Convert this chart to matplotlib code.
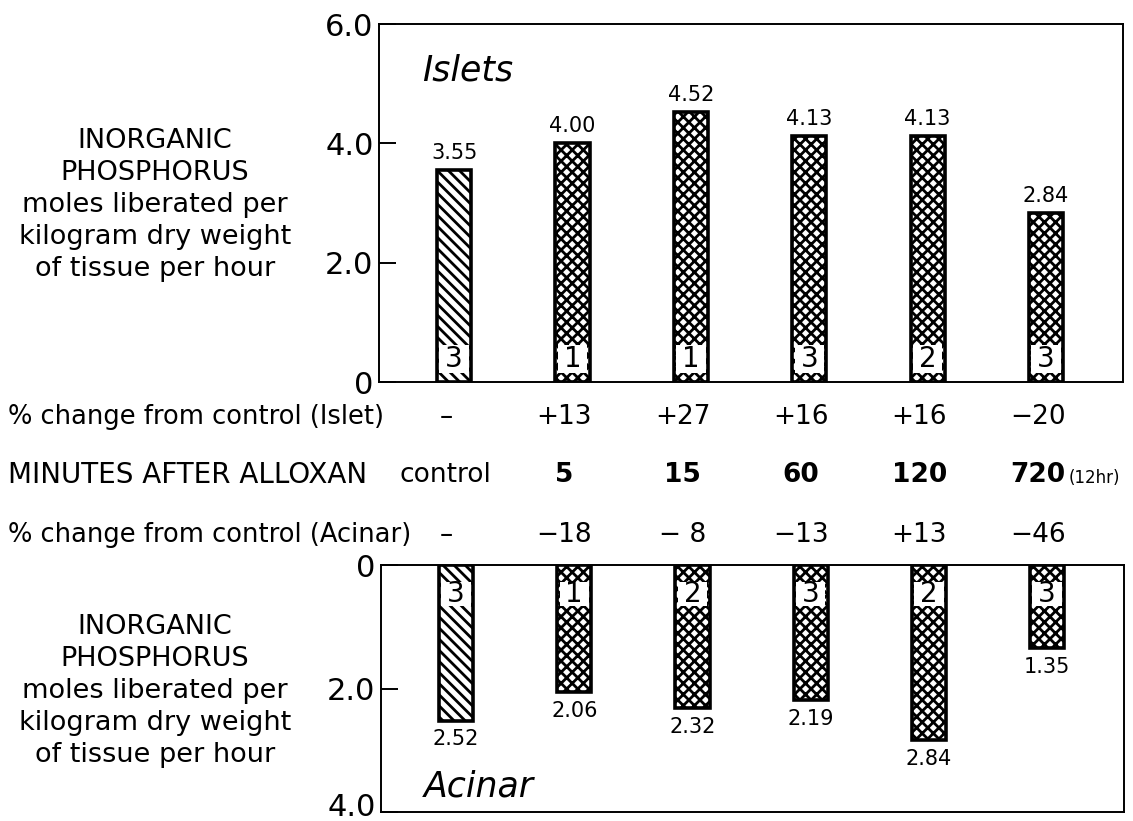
import matplotlib
matplotlib.use("Agg")
import matplotlib.pyplot as plt
import matplotlib.transforms as mtransforms
import numpy as np

plt.rcParams["font.family"] = ["DejaVu Sans"]
plt.rcParams["hatch.linewidth"] = 2.0

# Data
minutes = ["control", "5", "15", "60", "120", "720"]
islet_values = [3.55, 4.00, 4.52, 4.13, 4.13, 2.84]
acinar_values = [2.52, 2.06, 2.32, 2.19, 2.84, 1.35]
islet_n = [3, 1, 1, 3, 2, 3]
acinar_n = [3, 1, 2, 3, 2, 3]
islet_pct = ["–", "+13", "+27", "+16", "+16", "−20"]
acinar_pct = ["–", "−18", "− 8", "−13", "+13", "−46"]

ylabel_text = ("INORGANIC\nPHOSPHORUS\nmoles liberated per\n"
               "kilogram dry weight\nof tissue per hour")

W, H = 1133, 821
fig = plt.figure(figsize=(W / 100, H / 100), dpi=100)


def fy(py):
    # pixel row (from top) -> figure fraction
    return 1 - py / H


ax_top = fig.add_axes([379 / W, fy(382), 744 / W, fy(24) - fy(382)])
ax_bot = fig.add_axes([381 / W, fy(812), 743 / W, fy(565) - fy(812)])

x = np.arange(len(minutes))
bar_w = 0.29


def draw_bars(ax, values, counts, box_lo, box_hi, down):
    bars = ax.bar(x, values, width=bar_w, facecolor="white",
                  edgecolor="black", linewidth=2.6, zorder=2)
    for i, p in enumerate(bars):
        p.set_hatch("\\\\\\" if i == 0 else "xxx")
    ax.bar(x, box_hi - box_lo, bottom=box_lo, width=bar_w * 0.86,
           color="white", linewidth=0, zorder=3)
    for xi, n in zip(x, counts):
        ax.text(xi, (box_lo + box_hi) / 2, str(n), ha="center",
                va="center", fontsize=20, zorder=4)
    for xi, v in zip(x, values):
        if down:
            ax.annotate(f"{v:.2f}", (xi, v), xytext=(0, -6),
                        textcoords="offset points", ha="center", va="top",
                        fontsize=15)
        else:
            ax.annotate(f"{v:.2f}", (xi, v), xytext=(0, 5),
                        textcoords="offset points", ha="center",
                        va="bottom", fontsize=15)


draw_bars(ax_top, islet_values, islet_n, 0.15, 0.62, False)
draw_bars(ax_bot, acinar_values, acinar_n, 0.28, 0.66, True)

for ax in (ax_top, ax_bot):
    ax.set_xlim(-0.635, 5.65)
    ax.set_xticks([])
    for s in ax.spines.values():
        s.set_linewidth(1.4)
    ax.tick_params(axis="y", direction="in", length=12, width=1.4,
                   labelsize=22, pad=4)

ax_top.set_ylim(0, 6)
ax_top.set_yticks([0, 2, 4, 6], ["0", "2.0", "4.0", "6.0"])
ax_bot.set_ylim(4, 0)
ax_bot.set_yticks([0, 2, 4], ["0", "2.0", "4.0"])
# keep the bottom "4.0" inside the picture
lab = ax_bot.get_yticklabels()[-1]
lab.set_transform(lab.get_transform() + mtransforms.ScaledTranslation(
    0, 7 / 100, fig.dpi_scale_trans))

ax_top.text(0.058, 0.87, "Islets", transform=ax_top.transAxes,
            fontsize=25, style="italic", va="center", ha="left")
ax_bot.text(0.057, 0.105, "Acinar", transform=ax_bot.transAxes,
            fontsize=25, style="italic", va="center", ha="left")

# left-hand axis descriptions
fig.text(155 / W, fy(205), ylabel_text, ha="center", va="center",
         multialignment="center", fontsize=19.5, linespacing=1.3)
fig.text(155 / W, fy(691), ylabel_text, ha="center", va="center",
         multialignment="center", fontsize=19.5, linespacing=1.3)

# rows between the two panels, x tied to the bar positions
row = mtransforms.blended_transform_factory(ax_top.transData, fig.transFigure)
off = -0.07

fig.text(8 / W, fy(417), "% change from control (Islet)", fontsize=18.5,
         va="center", ha="left")
fig.text(8 / W, fy(475), "MINUTES AFTER ALLOXAN", fontsize=20,
         va="center", ha="left")
fig.text(8 / W, fy(535), "% change from control (Acinar)", fontsize=18.5,
         va="center", ha="left")

for xi, a, m, b in zip(x, islet_pct, minutes, acinar_pct):
    fig.text(xi + off, fy(417), a, transform=row, fontsize=19,
             ha="center", va="center")
    fig.text(xi + off, fy(535), b, transform=row, fontsize=19,
             ha="center", va="center")
    weight = "normal" if m == "control" else "bold"
    fig.text(xi + off, fy(475), m, transform=row, fontsize=19,
             ha="center", va="center", weight=weight)

fig.text(5 + off + 0.26, fy(478), "(12hr)", transform=row, fontsize=12,
         ha="left", va="center")

fig.savefig("out.png", dpi=100, facecolor="white")
